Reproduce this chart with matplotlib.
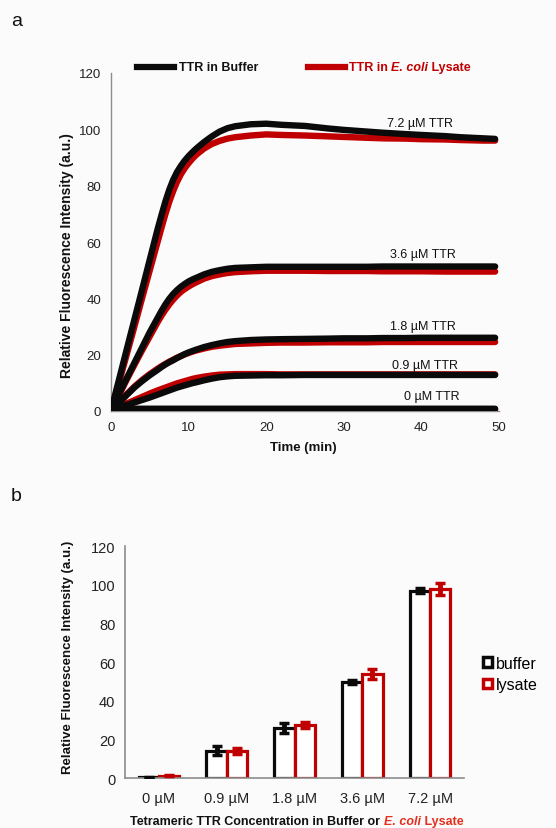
import matplotlib
matplotlib.use("Agg")
import matplotlib.pyplot as plt
from matplotlib.lines import Line2D
from matplotlib.patches import Patch
import numpy as np

plt.rcParams['font.family'] = ['Liberation Sans', 'DejaVu Sans']

# ---------------- Data: panel a (kinetic traces) ----------------
time_min = [0, 1, 2, 3, 4, 5, 6, 6.5, 7, 7.5, 8, 8.5, 9, 9.5, 10, 10.5, 11, 12, 13, 14,
            15, 16, 18, 20, 22, 25, 28, 30, 33, 35, 38, 40, 43, 45, 48, 49.5]

buf_72 = [0, 10.8, 21.6, 32.3, 43, 53.8, 64.5, 69.5, 74.3, 78.5, 82, 84.8, 87, 88.9,
          90.5, 91.9, 93.2, 95.5, 97.5, 99.2, 100.4, 101.1, 101.8, 102, 101.6, 101.2,
          100.3, 99.8, 99.2, 98.8, 98.3, 98, 97.6, 97.2, 96.8, 96.6]
lys_72 = [0, 9.8, 19.8, 29.8, 40, 50, 60, 65, 69.8, 74.2, 78, 81.3, 84, 86.2, 88,
          89.6, 91, 93.2, 94.8, 95.9, 96.7, 97.2, 97.8, 98.2, 98, 97.8, 97.5, 97.3, 97,
          96.8, 96.7, 96.5, 96.4, 96.2, 96, 96]

buf_36 = [0, 5.8, 11.5, 17, 22.5, 28, 33, 35.5, 37.8, 39.8, 41.5, 42.9, 44.1, 45.1,
          46, 46.7, 47.3, 48.5, 49.4, 50, 50.5, 50.8, 51, 51.2, 51.2, 51.2, 51.2, 51.2,
          51.2, 51.3, 51.3, 51.3, 51.3, 51.3, 51.3, 51.3]
lys_36 = [0, 5.5, 11, 16.3, 21.5, 26.5, 31.5, 33.8, 35.9, 37.8, 39.5, 41, 42.3, 43.3,
          44.2, 45, 45.7, 47, 47.9, 48.5, 49, 49.3, 49.6, 49.8, 49.8, 49.8, 49.7, 49.7,
          49.7, 49.6, 49.6, 49.6, 49.5, 49.5, 49.5, 49.5]

buf_18 = [0, 2.8, 5.6, 8.3, 10.6, 12.7, 14.6, 15.6, 16.5, 17.3, 18, 18.8, 19.5, 20.2,
          20.8, 21.3, 21.8, 22.7, 23.4, 24, 24.5, 24.8, 25.2, 25.4, 25.5, 25.6, 25.7,
          25.8, 25.8, 25.9, 25.9, 26, 26, 26, 26, 26]
lys_18 = [0, 3, 5.9, 8.6, 11, 13.1, 15, 15.9, 16.7, 17.5, 18.2, 18.9, 19.5, 20.1,
          20.6, 21.1, 21.5, 22.2, 22.8, 23.2, 23.5, 23.8, 24, 24.2, 24.3, 24.3, 24.4,
          24.4, 24.4, 24.5, 24.5, 24.5, 24.5, 24.5, 24.5, 24.5]

buf_09 = [0, 1.1, 2.1, 3, 3.9, 4.8, 5.8, 6.3, 6.8, 7.3, 7.8, 8.3, 8.7, 9.1, 9.5, 9.9,
          10.2, 10.9, 11.5, 12, 12.3, 12.5, 12.6, 12.7, 12.7, 12.8, 12.8, 12.8, 12.8,
          12.8, 12.8, 12.8, 12.8, 12.8, 12.8, 12.8]
lys_09 = [0, 1.3, 2.6, 3.8, 5, 6.2, 7.3, 7.8, 8.3, 8.8, 9.3, 9.8, 10.2, 10.6, 11, 11.4,
          11.7, 12.2, 12.6, 12.9, 13, 13.1, 13.1, 13.1, 13, 13, 13, 13, 13, 13, 13, 13,
          13, 13, 13, 13]

buf_00 = [0, 0.6, 0.7, 0.8, 0.8, 0.8, 0.8, 0.8, 0.8, 0.8, 0.8, 0.8, 0.8, 0.8, 0.8,
          0.8, 0.8, 0.8, 0.8, 0.8, 0.8, 0.8, 0.8, 0.8, 0.8, 0.8, 0.8, 0.8, 0.8, 0.8,
          0.8, 0.8, 0.8, 0.8, 0.8, 0.8]
lys_00 = [0, 0.4, 0.5, 0.5, 0.5, 0.5, 0.5, 0.5, 0.5, 0.5, 0.5, 0.5, 0.5, 0.5, 0.5,
          0.5, 0.5, 0.5, 0.5, 0.5, 0.5, 0.5, 0.5, 0.5, 0.5, 0.5, 0.5, 0.5, 0.5, 0.5,
          0.5, 0.5, 0.5, 0.5, 0.5, 0.5]

curve_labels = ["7.2 µM TTR", "3.6 µM TTR", "1.8 µM TTR", "0.9 µM TTR", "0 µM TTR"]
label_pos = [(39.8, 102.1), (40.2, 55.7), (40.2, 30.1), (40.5, 16.3), (41.3, 5.3)]

# ---------------- Data: panel b (bars) ----------------
conc_labels = ["0 µM", "0.9 µM", "1.8 µM", "3.6 µM", "7.2 µM"]
buffer_vals = [0.5, 14.3, 26.0, 50.0, 97.0]
buffer_err = [0.3, 2.5, 2.5, 1.0, 1.2]
lysate_vals = [1.4, 14.2, 27.6, 53.8, 97.8]
lysate_err = [0.3, 1.5, 1.5, 2.5, 3.0]

RED = '#C00000'
AXGRAY = '#8c8c8c'
BG = '#fbfbfb'

W, H = 556, 829
fig = plt.figure(figsize=(W / 100, H / 100), dpi=100, facecolor=BG)

def fx(px):
    return px / W

def fy(py):
    return 1 - py / H

# ---------------- Panel a ----------------
ax1 = fig.add_axes([fx(111), fy(412), (499 - 111) / W, (412 - 74) / H])
ax1.set_facecolor(BG)
pairs = [(lys_00, buf_00), (lys_09, buf_09), (lys_18, buf_18), (lys_36, buf_36), (lys_72, buf_72)]
for lys, buf in pairs:
    ax1.plot(time_min, lys, color=RED, lw=4.6, solid_capstyle='round', solid_joinstyle='round', zorder=2)
for lys, buf in pairs:
    ax1.plot(time_min, buf, color='#0a0a0a', lw=4.6, solid_capstyle='round', solid_joinstyle='round', zorder=3)

ax1.set_xlim(0, 50)
ax1.set_ylim(0, 120)
ax1.set_xticks([0, 10, 20, 30, 40, 50])
ax1.set_yticks([0, 20, 40, 60, 80, 100, 120])
for s in ['top', 'right']:
    ax1.spines[s].set_visible(False)
for s in ['left', 'bottom']:
    ax1.spines[s].set_color(AXGRAY)
    ax1.spines[s].set_linewidth(1.0)
ax1.tick_params(length=0, labelsize=9.5, colors='#222222')
ax1.tick_params(axis='y', pad=7)
ax1.tick_params(axis='x', pad=7)
for lbl, (tx, ty) in zip(curve_labels, label_pos):
    ax1.text(tx, ty, lbl, ha='center', va='center', fontsize=9, color='#111111', zorder=5)

fig.text(fx(67), fy(256), "Relative Fluorescence Intensity (a.u.)", rotation=90,
         ha='center', va='center', fontsize=10, fontweight='bold', color='#111111')
fig.text(fx(303), fy(448), "Time (min)", ha='center', va='center',
         fontsize=9.5, fontweight='bold', color='#111111')

# legend of panel a
fig.add_artist(Line2D([fx(137), fx(174)], [fy(68), fy(68)], transform=fig.transFigure,
                      color='#0a0a0a', lw=4.5))
fig.text(fx(179), fy(68), "TTR in Buffer", ha='left', va='center', fontsize=9,
         fontweight='bold', color='#111111')
fig.add_artist(Line2D([fx(308), fx(345)], [fy(68), fy(68)], transform=fig.transFigure,
                      color=RED, lw=4.5))
t1 = fig.text(fx(349), fy(68), "TTR in ", ha='left', va='center', fontsize=9,
              fontweight='bold', color=RED)
t2 = fig.text(0, 0, "E. coli", fontsize=9, fontweight='bold', fontstyle='italic', color=RED)
t3 = fig.text(0, 0, " Lysate", fontsize=9, fontweight='bold', color=RED)

fig.text(fx(17), fy(22), "a", ha='center', va='center', fontsize=14, color='#111111')
fig.text(fx(16), fy(497), "b", ha='center', va='center', fontsize=14, color='#111111')

# ---------------- Panel b ----------------
ax2 = fig.add_axes([fx(125), fy(779.3), 339 / W, (779.3 - 547.3) / H])
ax2.set_facecolor(BG)
x = np.arange(len(conc_labels))
bw = 0.3
ax2.bar(x - bw / 2, buffer_vals, bw, facecolor='white', edgecolor='#0a0a0a', linewidth=2.3, zorder=2)
ax2.bar(x + bw / 2, lysate_vals, bw, facecolor='white', edgecolor=RED, linewidth=2.3, zorder=2)
ax2.errorbar(x - bw / 2, buffer_vals, yerr=buffer_err, fmt='none', ecolor='#0a0a0a',
             elinewidth=3.5, capsize=3.5, capthick=2.5, zorder=3)
ax2.errorbar(x + bw / 2, lysate_vals, yerr=lysate_err, fmt='none', ecolor=RED,
             elinewidth=3.5, capsize=3.5, capthick=2.5, zorder=3)
ax2.set_xlim(-0.5, 4.5)
ax2.set_ylim(0, 120)
ax2.set_yticks([0, 20, 40, 60, 80, 100, 120])
ax2.set_xticks(x)
ax2.set_xticklabels(conc_labels)
for s in ['top', 'right']:
    ax2.spines[s].set_visible(False)
for s in ['left', 'bottom']:
    ax2.spines[s].set_color(AXGRAY)
    ax2.spines[s].set_linewidth(1.2)
ax2.tick_params(length=0, labelsize=10.5, colors='#222222')
ax2.tick_params(axis='y', pad=7)
ax2.tick_params(axis='x', pad=9)

fig.text(fx(68), fy(657), "Relative Fluorescence Intensity (a.u.)", rotation=90,
         ha='center', va='center', fontsize=9.5, fontweight='bold', color='#111111')

b1 = fig.text(fx(130), fy(822), "Tetrameric TTR Concentration in Buffer or ", ha='left',
              va='center', fontsize=9, fontweight='bold', color='#111111')
XRED = '#E3301F'
b2 = fig.text(0, 0, "E. coli", fontsize=9, fontweight='bold', fontstyle='italic', color=XRED)
b3 = fig.text(0, 0, " Lysate", fontsize=9, fontweight='bold', color=XRED)

handles = [Patch(facecolor='white', edgecolor='#0a0a0a', linewidth=2.5),
           Patch(facecolor='white', edgecolor=RED, linewidth=2.5)]
fig.legend(handles, ['buffer', 'lysate'], loc='center left',
           bbox_to_anchor=(fx(483), fy(675)), bbox_transform=fig.transFigure,
           frameon=False, handlelength=0.55, handleheight=0.55, handletextpad=0.25,
           labelspacing=0.4, borderpad=0, borderaxespad=0, fontsize=11.5)

# chain text pieces
fig.canvas.draw()
r = fig.canvas.get_renderer()

def chain(prev, nxt):
    bb = prev.get_window_extent(renderer=r)
    inv = fig.transFigure.inverted()
    x1, _ = inv.transform((bb.x1, 0))
    _, yy = prev.get_position()
    nxt.set_position((x1, yy))
    nxt.set_va(prev.get_va())
    nxt.set_ha('left')

chain(t1, t2)
fig.canvas.draw()
chain(t2, t3)
chain(b1, b2)
fig.canvas.draw()
chain(b2, b3)

fig.savefig("out.png", dpi=100, facecolor=BG)
